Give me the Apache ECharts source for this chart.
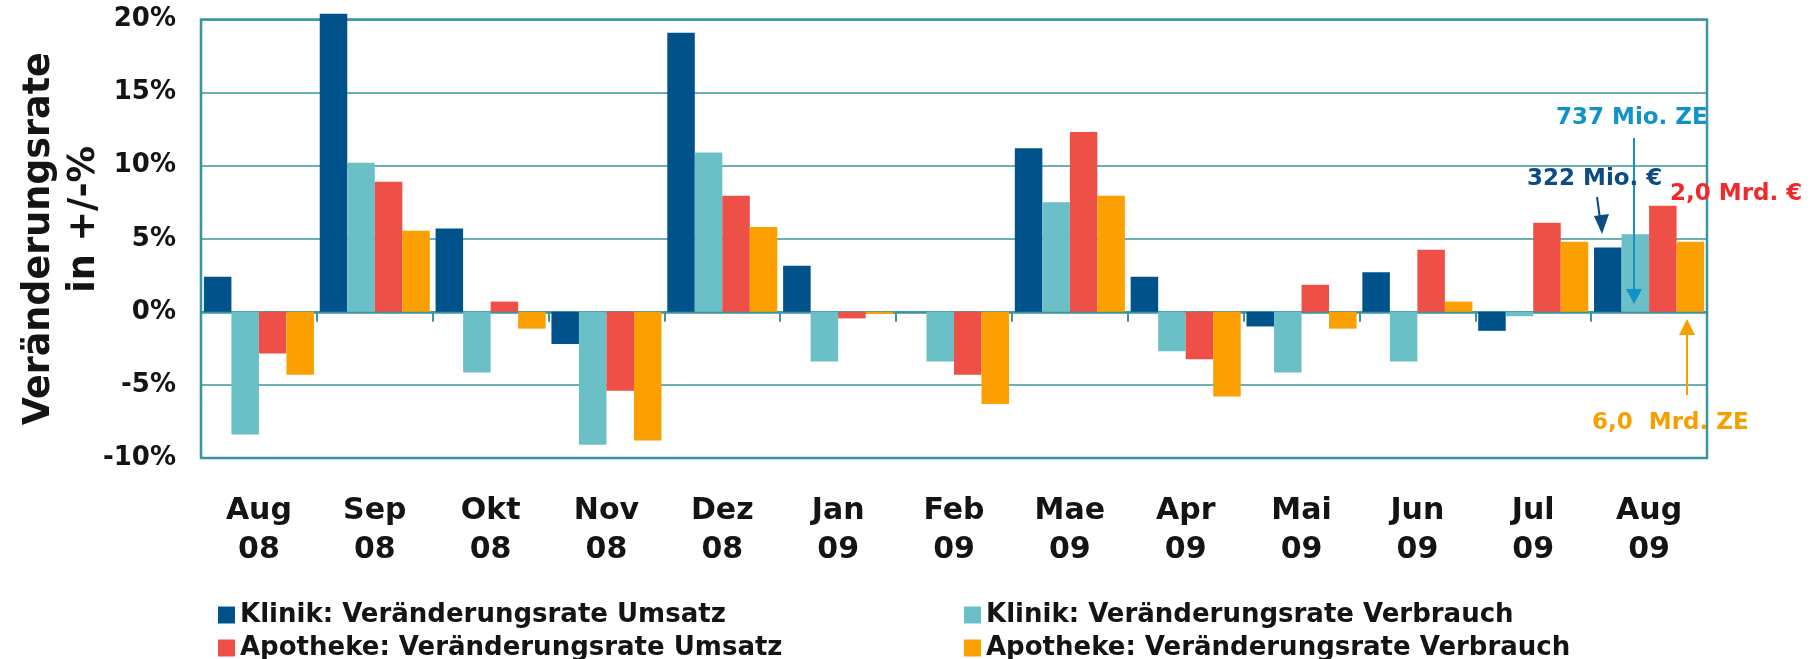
<!DOCTYPE html>
<html>
<head>
<meta charset="utf-8">
<script src="https://cdn.jsdelivr.net/npm/echarts@6/dist/echarts.min.js"></script>
<style>
html,body{margin:0;padding:0;background:#fff;}
#chart{width:1820px;height:659px;}
</style>
</head>
<body>
<div id="chart"></div>
<script>
var categories = ['Aug\n08','Sep\n08','Okt\n08','Nov\n08','Dez\n08','Jan\n09','Feb\n09','Mae\n09','Apr\n09','Mai\n09','Jun\n09','Jul\n09','Aug\n09'];
var klinikUmsatz      = [2.4, 20.4, 5.7, -2.2, 19.1, 3.15, 0, 11.2, 2.4, -1.0, 2.7, -1.3, 4.4];
var klinikVerbrauch   = [-8.4, 10.2, -4.15, -9.1, 10.9, -3.4, -3.4, 7.5, -2.7, -4.15, -3.4, -0.3, 5.3];
var apothekeUmsatz    = [-2.85, 8.9, 0.7, -5.4, 7.95, -0.45, -4.3, 12.3, -3.25, 1.85, 4.25, 6.1, 7.25];
var apothekeVerbrauch = [-4.3, 5.55, -1.15, -8.8, 5.8, -0.15, -6.3, 7.95, -5.8, -1.15, 0.7, 4.8, 4.8];
var seriesNames = ['Klinik: Veränderungsrate Umsatz','Klinik: Veränderungsrate Verbrauch','Apotheke: Veränderungsrate Umsatz','Apotheke: Veränderungsrate Verbrauch'];
var yTitleLines = ['Veränderungsrate','in +/-%'];
var colors = ['#00528a','#6bc0c8','#ee5047','#fba000'];
var teal = '#3a95a0';
var font = 'DejaVu Sans';

var chart = echarts.init(document.getElementById('chart'));
function bar(i, data){
  return {name: seriesNames[i], type:'bar', data:data, clip:false, barGap:'0%', barCategoryGap:'5%',
    itemStyle:{color:colors[i]}, xAxisIndex:0, yAxisIndex:0};
}
function legend(i, left, top){
  return {data:[seriesNames[i]], left:left, top:top, padding:0, itemWidth:17, itemHeight:17, icon:'rect',
    itemGap:0, selectedMode:false,
    textStyle:{fontFamily:font, fontWeight:'bold', fontSize:26, color:'#141414', padding:[0,0,0,0]}};
}
var nameStyle = {fontFamily:font, fontWeight:'bold', fontSize:36.5, lineHeight:45, color:'#141414'};
var option = {
  animation:false,
  textStyle:{fontFamily:font},
  grid:{left:201, right:113, top:19.5, bottom:201, show:true, borderColor:teal, borderWidth:2.5, containLabel:false, outerBoundsMode:'none'},
  legend:[legend(0,218,602), legend(1,964,602), legend(2,218,635), legend(3,964,635)],
  xAxis:[
    {type:'category', data:categories, position:'bottom',
     axisLine:{show:true, onZero:true, lineStyle:{color:teal, width:2.5}},
     axisTick:{show:true, length:10, lineStyle:{color:teal, width:2}},
     axisLabel:{show:false}, splitLine:{show:false}},
    {type:'category', data:categories, position:'bottom',
     axisLine:{show:false, onZero:false}, axisTick:{show:false},
     axisLabel:{show:true, margin:34, fontFamily:font, fontWeight:'bold', fontSize:30, lineHeight:39, color:'#141414'},
     splitLine:{show:false}}
  ],
  yAxis:[{type:'value', min:-10, max:20, interval:5,
    name:'{a|' + yTitleLines[0] + '}\n{b|' + yTitleLines[1] + '}', nameLocation:'middle', nameRotate:90, nameGap:94,
    nameMoveOverlap:false,
    nameTextStyle:{fontFamily:font, fontWeight:'bold', fontSize:36.5, lineHeight:45, color:'#141414',
      rich:{a:nameStyle, b:Object.assign({padding:[0,0,0,39]}, nameStyle)}},
    axisLine:{show:false}, axisTick:{show:false},
    axisLabel:{formatter:'{value}%', margin:25, fontFamily:font, fontWeight:'bold', fontSize:26, color:'#141414'},
    splitLine:{show:true, lineStyle:{color:teal, width:1.5}}}],
  series:[bar(0,klinikUmsatz), bar(1,klinikVerbrauch), bar(2,apothekeUmsatz), bar(3,apothekeVerbrauch)],
  graphic:[
    {type:'text', z:100, style:{text:'737 Mio. ZE', x:1556, y:118, verticalAlign:'middle', font:'bold 23px "DejaVu Sans"', fill:'#1192c9'}},
    {type:'line', z:100, shape:{x1:1634, y1:138, x2:1634, y2:292}, style:{stroke:'#1192c9', lineWidth:2}},
    {type:'polygon', z:100, shape:{points:[[1626,289],[1642,289],[1634,304]]}, style:{fill:'#1192c9'}},
    {type:'text', z:100, style:{text:'322 Mio. €', x:1527, y:179, verticalAlign:'middle', font:'bold 23px "DejaVu Sans"', fill:'#0d4c82'}},
    {type:'line', z:100, shape:{x1:1597, y1:197, x2:1600.5, y2:222}, style:{stroke:'#0d4c82', lineWidth:2}},
    {type:'polygon', z:100, shape:{points:[[1594,216],[1609,214],[1602,234]]}, style:{fill:'#0d4c82'}},
    {type:'text', z:100, style:{text:'2,0 Mrd. €', x:1670, y:194, verticalAlign:'middle', font:'bold 23px "DejaVu Sans"', fill:'#f02a2c'}},
    {type:'text', z:100, style:{text:'6,0  Mrd. ZE', x:1592, y:423, verticalAlign:'middle', font:'bold 23px "DejaVu Sans"', fill:'#f5a000'}},
    {type:'line', z:100, shape:{x1:1687, y1:395, x2:1687, y2:332}, style:{stroke:'#f5a000', lineWidth:2}},
    {type:'polygon', z:100, shape:{points:[[1687,319],[1679,335],[1695,335]]}, style:{fill:'#f5a000'}}
  ]
};
chart.setOption(option);
</script>
</body>
</html>
